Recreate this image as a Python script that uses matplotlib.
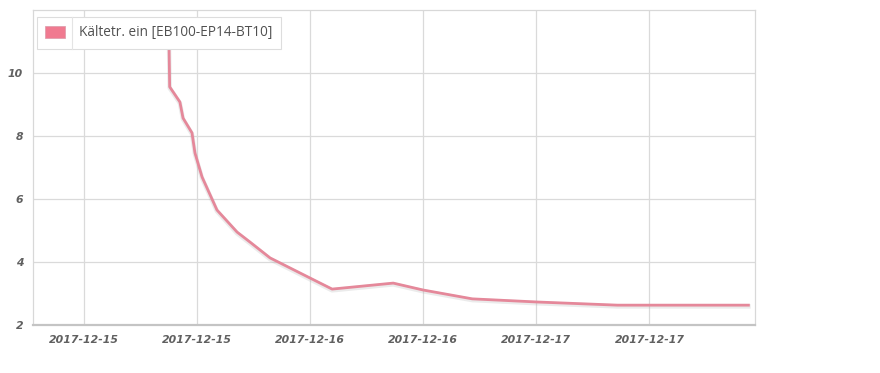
import numpy as np
import pandas as pd
import matplotlib
matplotlib.use('Agg')
import matplotlib.pyplot as plt
import matplotlib.dates as mdates
from matplotlib.lines import Line2D
from matplotlib.patches import Patch

times = ['2017-12-15 09:00', '2017-12-15 09:06', '2017-12-15 10:11', '2017-12-15 10:31',
         '2017-12-15 11:28', '2017-12-15 11:47', '2017-12-15 12:32', '2017-12-15 14:07',
         '2017-12-15 16:15', '2017-12-15 17:38', '2017-12-15 19:45', '2017-12-16 00:00',
         '2017-12-16 02:20', '2017-12-16 08:49', '2017-12-16 12:00', '2017-12-16 17:12',
         '2017-12-17 00:06', '2017-12-17 08:36', '2017-12-17 22:30']
values = [11.5, 9.56, 9.08, 8.57, 8.10, 7.46, 6.70, 5.65, 4.95, 4.63, 4.13, 3.49,
          3.14, 3.33, 3.11, 2.83, 2.73, 2.63, 2.63]
series_name = 'Kältetr. ein [EB100-EP14-BT10]'
y_ticks = [2, 4, 6, 8, 10]

t = pd.to_datetime(times)

fig = plt.figure(figsize=(8.8, 3.73), dpi=100)
ax = fig.add_axes([33 / 880, 48 / 373, 722 / 880, 315 / 373])

line_col = '#e5889a'
# Schatten #
ax.plot(t, np.array(values) - 0.04, color='#b0b0b0', linewidth=3.2, alpha=0.25,
        solid_joinstyle='round', zorder=2)
ax.plot(t, values, color=line_col, linewidth=2.0, solid_joinstyle='round', zorder=3)

ax.set_ylim(2, 12)
ax.set_yticks(y_ticks)
ax.set_xlim(pd.Timestamp('2017-12-14 18:36'), pd.Timestamp('2017-12-17 23:12'))
ax.xaxis.set_major_locator(mdates.HourLocator(byhour=[0, 12]))
ax.xaxis.set_major_formatter(mdates.DateFormatter('%Y-%m-%d'))

ax.grid(True, color='#dadada', linewidth=0.9)
ax.set_axisbelow(True)
for s in ['left', 'top', 'right']:
    ax.spines[s].set_color('#d8d8d8')
    ax.spines[s].set_linewidth(0.9)
ax.spines['bottom'].set_color('#c4c4c4')
ax.spines['bottom'].set_linewidth(1.6)

ax.tick_params(axis='both', length=0, colors='#606060', labelsize=7.8)
ax.tick_params(axis='x', pad=7)
ax.tick_params(axis='y', pad=7)
for lab in ax.get_xticklabels() + ax.get_yticklabels():
    lab.set_fontstyle('italic')
    lab.set_fontweight('bold')

leg = ax.legend(handles=[Patch(facecolor='#f07a90', edgecolor='#e0a0ae', linewidth=0.6)],
                labels=[series_name], loc='upper left',
                bbox_to_anchor=(4 / 722, 1 - 7 / 315), frameon=True, fancybox=False,
                edgecolor='#dddddd', framealpha=1.0, borderpad=0.62, handlelength=1.45,
                handleheight=0.95, handletextpad=1.05, borderaxespad=0,
                prop={'family': ['Open Sans', 'DejaVu Sans'], 'size': 9.8})
leg.get_frame().set_linewidth(0.8)
leg.set_zorder(10)
for txt in leg.get_texts():
    txt.set_color('#505050')

# Trennlinie in der Legende #
fig.canvas.draw()
bb = leg.get_window_extent()
hb = leg.legend_handles[0].get_window_extent()
xdiv = (hb.x1 + 7) / 880
fig.add_artist(Line2D([xdiv, xdiv], [bb.y0 / 373, bb.y1 / 373], color='#e4e4e4',
                      linewidth=0.8, zorder=10))

fig.savefig('out.png', dpi=100)
